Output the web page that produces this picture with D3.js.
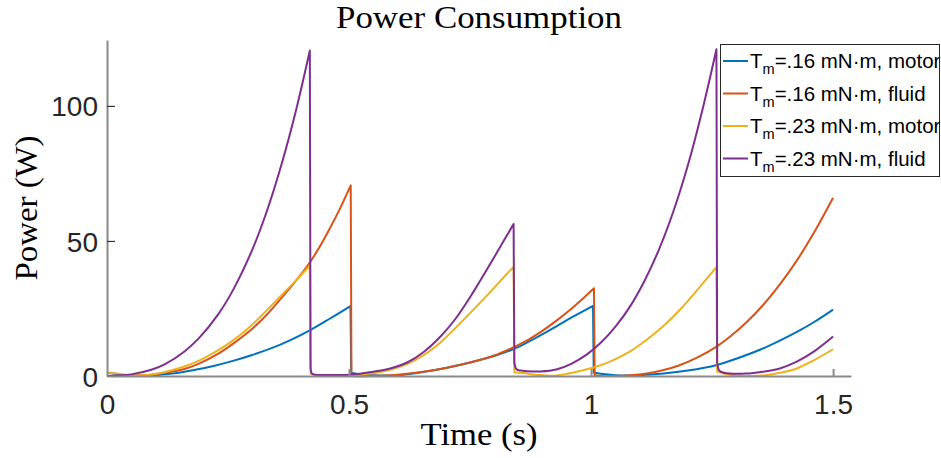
<!DOCTYPE html>
<html>
<head>
<meta charset="utf-8">
<script src="https://cdn.jsdelivr.net/npm/d3@7"></script>
<style>
  html, body { margin: 0; padding: 0; background: #fff; }
  svg { display: block; }
</style>
</head>
<body>
<svg id="chart" width="941" height="458"></svg>
<script>
// ---------- data ----------
const seriesNames = [
  {t: "T", sub: "m", rest: "=.16 mN\u00B7m, motor"},
  {t: "T", sub: "m", rest: "=.16 mN\u00B7m, fluid"},
  {t: "T", sub: "m", rest: "=.23 mN\u00B7m, motor"},
  {t: "T", sub: "m", rest: "=.23 mN\u00B7m, fluid"}
];
const seriesColors = ["#0072BD", "#D95319", "#EDB120", "#7E2F8E"];

const xTicks = [0, 0.5, 1, 1.5];
const xTickLabels = ["0", "0.5", "1", "1.5"];
const yTicks = [0, 50, 100];
const yTickLabels = ["0", "50", "100"];

// Tm = .16 mN·m, motor
const t16Motor = [0, 0.03, 0.06, 0.1, 0.14, 0.18, 0.22, 0.26, 0.30, 0.34, 0.38, 0.42, 0.46, 0.503,
  0.5045, 0.51, 0.55, 0.6, 0.65, 0.7, 0.75, 0.8, 0.84, 0.87, 0.9, 0.93, 0.96, 1.004,
  1.0055, 1.02, 1.05, 1.1, 1.15, 1.2, 1.26, 1.3, 1.35, 1.39, 1.43, 1.46, 1.5];
const p16Motor = [1.3, 0.5, 0.1, 0.3, 1.0, 2.2, 3.7, 5.6, 7.8, 10.3, 13.4, 17.0, 21.2, 25.9,
  1.5, 1.0, 0.3, 0.3, 1.4, 3.0, 5.0, 7.4, 10.0, 12.6, 15.5, 18.6, 21.7, 26.0,
  1.3, 0.8, 0.3, 0.3, 0.9, 2.0, 4.1, 6.4, 9.8, 13.1, 16.8, 19.9, 24.6];

// Tm = .16 mN·m, fluid
const t16Fluid = [0, 0.05, 0.09, 0.12, 0.16, 0.19, 0.23, 0.26, 0.30, 0.33, 0.36, 0.39, 0.42, 0.44, 0.46, 0.48, 0.5035,
  0.505, 0.51, 0.55, 0.6, 0.65, 0.7, 0.75, 0.8, 0.84, 0.87, 0.9, 0.93, 0.96, 0.985, 1.006,
  1.0075, 1.02, 1.05, 1.08, 1.115, 1.15, 1.18, 1.22, 1.26, 1.29, 1.32, 1.355, 1.39, 1.425, 1.46, 1.5];
const p16Fluid = [0, 0.1, 0.5, 1.2, 2.6, 4.6, 8.3, 11.9, 17.5, 22.7, 28.8, 35.2, 42.3, 48.0, 54.5, 61.5, 70.6,
  0.4, 0.0, 0.05, 0.5, 1.5, 3.0, 5.0, 7.6, 10.7, 13.4, 16.8, 20.7, 25.0, 29.0, 32.5,
  0.3, 0.0, 0.0, 0.24, 0.92, 2.2, 3.8, 6.9, 11.0, 15.0, 19.7, 26.2, 33.9, 42.7, 52.9, 66.0];

// Tm = .23 mN·m, motor
const t23Motor = [0, 0.02, 0.05, 0.09, 0.12, 0.16, 0.19, 0.23, 0.26, 0.30, 0.33, 0.36, 0.39, 0.419,
  0.4205, 0.425, 0.47, 0.50, 0.55, 0.585, 0.62, 0.655, 0.69, 0.72, 0.755, 0.79, 0.825, 0.84,
  0.8415, 0.86, 0.89, 0.92, 0.95, 0.98, 1.01, 1.045, 1.08, 1.115, 1.15, 1.185, 1.22, 1.259,
  1.2605, 1.275, 1.3, 1.33, 1.36, 1.39, 1.425, 1.46, 1.5];
const p23Motor = [1.3, 0.9, 0.3, 0.5, 1.5, 3.5, 5.7, 9.6, 13.1, 19.0, 24.3, 29.8, 35.3, 40.8,
  1.0, 0.5, 0.3, 0.3, 1.0, 2.3, 4.4, 7.8, 12.6, 17.8, 24.2, 30.8, 37.6, 40.4,
  1.3, 1.1, 0.4, 0.1, 0.8, 2.0, 3.4, 5.8, 9.0, 13.4, 18.6, 24.8, 32.0, 40.3,
  1.6, 0.8, 0.2, 0.0, 0.3, 1.2, 2.8, 5.8, 9.9];

// Tm = .23 mN·m, fluid
const t23Fluid = [0, 0.02, 0.05, 0.09, 0.12, 0.16, 0.19, 0.23, 0.26, 0.30, 0.33, 0.36, 0.39, 0.419,
  0.4205, 0.423, 0.43, 0.47, 0.50, 0.55, 0.585, 0.62, 0.655, 0.69, 0.72, 0.755, 0.79, 0.825, 0.84,
  0.8415, 0.846, 0.855, 0.895, 0.93, 0.96, 0.99, 1.02, 1.05, 1.08, 1.11, 1.14, 1.17, 1.2, 1.23, 1.259,
  1.2605, 1.265, 1.275, 1.32, 1.355, 1.39, 1.425, 1.46, 1.5];
const p23Fluid = [0, 0.2, 0.6, 2.2, 4.4, 9.1, 14.0, 22.9, 31.7, 46.7, 60.9, 78.0, 98.0, 120.5,
  4.0, 1.0, 0.5, 0.4, 0.5, 1.6, 2.8, 5.0, 9.0, 14.8, 21.2, 30.6, 41.0, 51.7, 56.3,
  5.0, 2.5, 2.0, 1.7, 2.5, 4.6, 7.8, 12.3, 18.2, 25.6, 35.1, 46.7, 60.9, 78.0, 98.5, 121.0,
  5.0, 2.0, 1.2, 0.9, 1.6, 2.8, 5.3, 9.0, 14.6];

const seriesT = [t16Motor, t16Fluid, t23Motor, t23Fluid];
const seriesP = [p16Motor, p16Fluid, p23Motor, p23Fluid];

// ---------- drawing ----------
const svg = d3.select("#chart");
const plotL = 107, plotR = 851, plotT = 40, plotB = 376;

const x = d3.scaleLinear().domain([0, 1.537]).range([plotL, plotR]);
const y = d3.scaleLinear().domain([0, 124.4]).range([plotB, plotT]);

const axisColor = "#8a8a8a";
const textColor = "#262626";

// smooth line within each cycle; the sudden drops are drawn as straight jumps
const lineGen = d3.line()
  .x(d => x(d[0]))
  .y(d => y(d[1]))
  .curve(d3.curveCatmullRom.alpha(0.5));

function seriesPath(ts, ps) {
  const segs = [];
  let cur = [];
  ts.forEach((t, j) => {
    if (j > 0 && (t - ts[j - 1]) < 0.003 && (ps[j - 1] - ps[j]) > 8) {
      segs.push(cur);
      cur = [];
    }
    cur.push([t, ps[j]]);
  });
  segs.push(cur);
  return segs.map((s, k) => {
    const d = lineGen(s).replace(/Z/g, "");
    return k === 0 ? d : "L" + d.slice(1);
  }).join("");
}

seriesT.forEach((ts, i) => {
  svg.append("path")
    .attr("d", seriesPath(ts, seriesP[i]))
    .attr("fill", "none")
    .attr("stroke", seriesColors[i])
    .attr("stroke-width", 2)
    .attr("stroke-linejoin", "round");
});

// axes
const xAxis = d3.axisBottom(x).tickValues(xTicks).tickFormat((d, i) => xTickLabels[i]).tickSizeInner(-7).tickSizeOuter(0).tickPadding(14);
const gx = svg.append("g").attr("transform", `translate(0,${plotB})`).call(xAxis);
gx.select(".domain").attr("stroke", axisColor).attr("stroke-width", 2);
gx.selectAll(".tick line").attr("stroke", axisColor).attr("stroke-width", 2);
gx.selectAll(".tick").filter(d => d === 0).select("line").remove();
gx.selectAll(".tick text")
  .attr("fill", textColor)
  .attr("font-family", "Liberation Sans, Arial, sans-serif")
  .attr("font-size", 28)
  .attr("dy", null)
  .attr("y", 38);

const yAxis = d3.axisLeft(y).tickValues(yTicks).tickFormat((d, i) => yTickLabels[i]).tickSizeInner(-8).tickSizeOuter(0).tickPadding(9);
const gy = svg.append("g").attr("transform", `translate(${plotL},0)`).call(yAxis);
gy.select(".domain").attr("stroke", axisColor).attr("stroke-width", 2);
gy.selectAll(".tick line").attr("stroke", "#333").attr("stroke-width", 1.2);
gy.selectAll(".tick").filter(d => d === 0).select("line").remove();
gy.selectAll(".tick text")
  .attr("fill", textColor)
  .attr("font-family", "Liberation Sans, Arial, sans-serif")
  .attr("font-size", 28)
  .attr("x", -9)
  .attr("dy", "0.36em");

// title and axis labels
svg.append("text")
  .attr("x", (plotL + plotR) / 2).attr("y", 28)
  .attr("text-anchor", "middle")
  .attr("font-family", "Liberation Serif, Times New Roman, serif")
  .attr("font-size", 31)
  .attr("fill", "#000")
  .attr("textLength", 286).attr("lengthAdjust", "spacingAndGlyphs")
  .text("Power Consumption");

svg.append("text")
  .attr("x", (plotL + plotR) / 2).attr("y", 445)
  .attr("text-anchor", "middle")
  .attr("font-family", "Liberation Serif, Times New Roman, serif")
  .attr("font-size", 32)
  .attr("fill", "#000")
  .attr("textLength", 117).attr("lengthAdjust", "spacingAndGlyphs")
  .text("Time (s)");

svg.append("text")
  .attr("transform", `translate(37,${(plotT + plotB) / 2}) rotate(-90)`)
  .attr("text-anchor", "middle")
  .attr("font-family", "Liberation Serif, Times New Roman, serif")
  .attr("font-size", 32)
  .attr("fill", "#000")
  .attr("textLength", 145).attr("lengthAdjust", "spacingAndGlyphs")
  .text("Power (W)");

// legend
const lg = svg.append("g");
lg.append("rect")
  .attr("x", 720.5).attr("y", 44.5).attr("width", 219).attr("height", 132)
  .attr("fill", "#fff").attr("stroke", "#262626").attr("stroke-width", 1);
const rowY = [61, 93.5, 126, 158.5];
seriesNames.forEach((s, i) => {
  lg.append("line")
    .attr("x1", 723).attr("x2", 748)
    .attr("y1", rowY[i]).attr("y2", rowY[i])
    .attr("stroke", seriesColors[i]).attr("stroke-width", 2);
  const tx = lg.append("text")
    .attr("x", 750).attr("y", rowY[i] + 7)
    .attr("font-family", "Liberation Sans, Arial, sans-serif")
    .attr("font-size", 20.5)
    .attr("fill", "#000");
  tx.append("tspan").text(s.t);
  tx.append("tspan").attr("font-size", 14.5).attr("dy", 6).text(s.sub);
  tx.append("tspan").attr("dy", -6).text(s.rest);
});
</script>
</body>
</html>
